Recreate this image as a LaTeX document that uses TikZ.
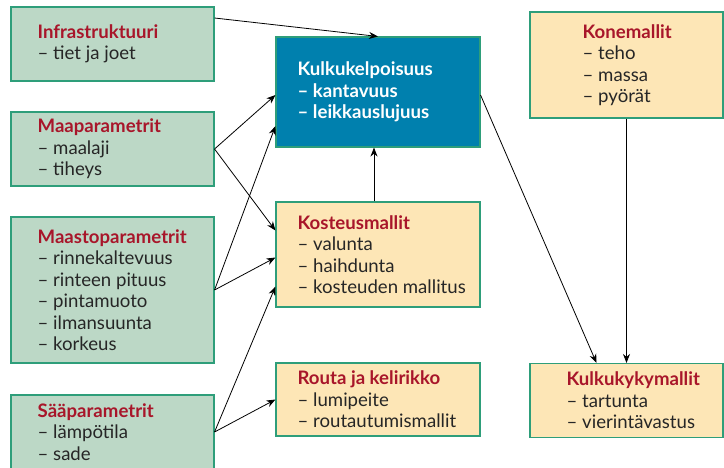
\documentclass[tikz,border=0pt]{standalone}
\usepackage{fontspec}
\setmainfont{Lato}
\usetikzlibrary{arrows.meta}
\definecolor{reuna}{HTML}{2E9E7A}
\definecolor{vihrea}{HTML}{BCD8C6}
\definecolor{keltainen}{HTML}{FDE6B6}
\definecolor{sininen}{HTML}{0080AE}
\definecolor{punainen}{HTML}{A8162A}
\newcommand{\otsikko}[1]{{\bfseries\color{punainen}#1}}
\tikzset{
  laatikko/.style={draw=reuna, line width=1.1pt, minimum width=203pt, inner sep=0pt},
  vihreabox/.style={laatikko, fill=vihrea},
  keltabox/.style={laatikko, fill=keltainen},
  sininenbox/.style={laatikko, fill=sininen},
  teksti/.style={align=left, inner sep=0pt, anchor=west, text=black!85,
    font=\fontsize{18.6}{21.5}\selectfont},
  nuoli/.style={line width=0.8pt, -{Stealth[length=9pt,width=7pt]}}
}
\begin{document}
\begin{tikzpicture}[x=1pt,y=-1pt]
\useasboundingbox (0,0) rectangle (724,467);

% vasen sarake
\node[vihreabox, minimum height=74pt] (infra) at (112.5,44) {};
\node[teksti] (infrat) at ([xshift=27pt]infra.west) {\otsikko{Infrastruktuuri}\\– tiet ja joet};
\node[vihreabox, minimum height=74pt] (maa) at (112.5,149) {};
\node[teksti] (maat) at ([xshift=27pt]maa.west) {\otsikko{Maaparametrit}\\– maalaji\\– tiheys};
\node[vihreabox, minimum height=146pt] (maasto) at (112.5,290) {};
\node[teksti] (maastot) at ([xshift=27pt]maasto.west) {\otsikko{Maastoparametrit}\\– rinnekaltevuus\\– rinteen pituus\\– pintamuoto\\– ilmansuunta\\– korkeus};
\node[vihreabox, minimum height=74pt] (saa) at (112.5,432) {};
\node[teksti] (saat) at ([xshift=27pt]saa.west) {\otsikko{Sääparametrit}\\– lämpötila\\– sade};

% keskisarake
\node[sininenbox, minimum height=110pt, minimum width=204pt] (kulku) at (378,92) {};
\node[teksti, text=white, font=\fontsize{18.6}{21.5}\selectfont\bfseries] (kulkut) at ([xshift=22pt]kulku.west) {Kulkukelpoisuus\\– kantavuus\\– leikkauslujuus};
\node[keltabox, minimum height=105pt, minimum width=204pt] (kosteus) at (378,254.5) {};
\node[teksti] (kosteust) at ([xshift=22pt]kosteus.west) {\otsikko{Kosteusmallit}\\– valunta\\– haihdunta\\– kosteuden mallitus};
\node[keltabox, minimum height=73pt, minimum width=204pt] (routa) at (378,399.5) {};
\node[teksti] (routat) at ([xshift=22pt]routa.west) {\otsikko{Routa ja kelirikko}\\– lumipeite\\– routautumismallit};

% oikea sarake
\node[keltabox, minimum height=106pt, minimum width=193pt] (kone) at (626.5,65) {};
\node[teksti] (konet) at ([xshift=53pt]kone.west) {\otsikko{Konemallit}\\– teho\\– massa\\– pyörät};
\node[keltabox, minimum height=74pt, minimum width=193pt] (kyky) at (626.5,400.5) {};
\node[teksti] (kykyt) at ([xshift=37pt]kyky.west) {\otsikko{Kulkukykymallit}\\– tartunta\\– vierintävastus};

% nuolet
\draw[nuoli] ([yshift=26pt]infra.east) -- (kulku.north);
\draw[nuoli] (maa.east) -- ([yshift=-3pt]kulku.west);
\draw[nuoli] (maa.east) -- ([yshift=24pt]kosteus.west);
\draw[nuoli] (maasto.east) -- ([yshift=-34pt]kulku.west);
\draw[nuoli] (maasto.east) -- ([yshift=-3pt]kosteus.west);
\draw[nuoli] (saa.east) -- ([yshift=-32pt]kosteus.west);
\draw[nuoli] (saa.east) -- (routa.west);
\draw[nuoli] ([xshift=-4pt]kosteus.north) -- ([xshift=-4pt]kulku.south);
\draw[nuoli] ([yshift=-3pt]kulku.east) -- ([xshift=-30pt]kyky.north);
\draw[nuoli] (kone.south) -- (kyky.north);
\end{tikzpicture}
\end{document}
